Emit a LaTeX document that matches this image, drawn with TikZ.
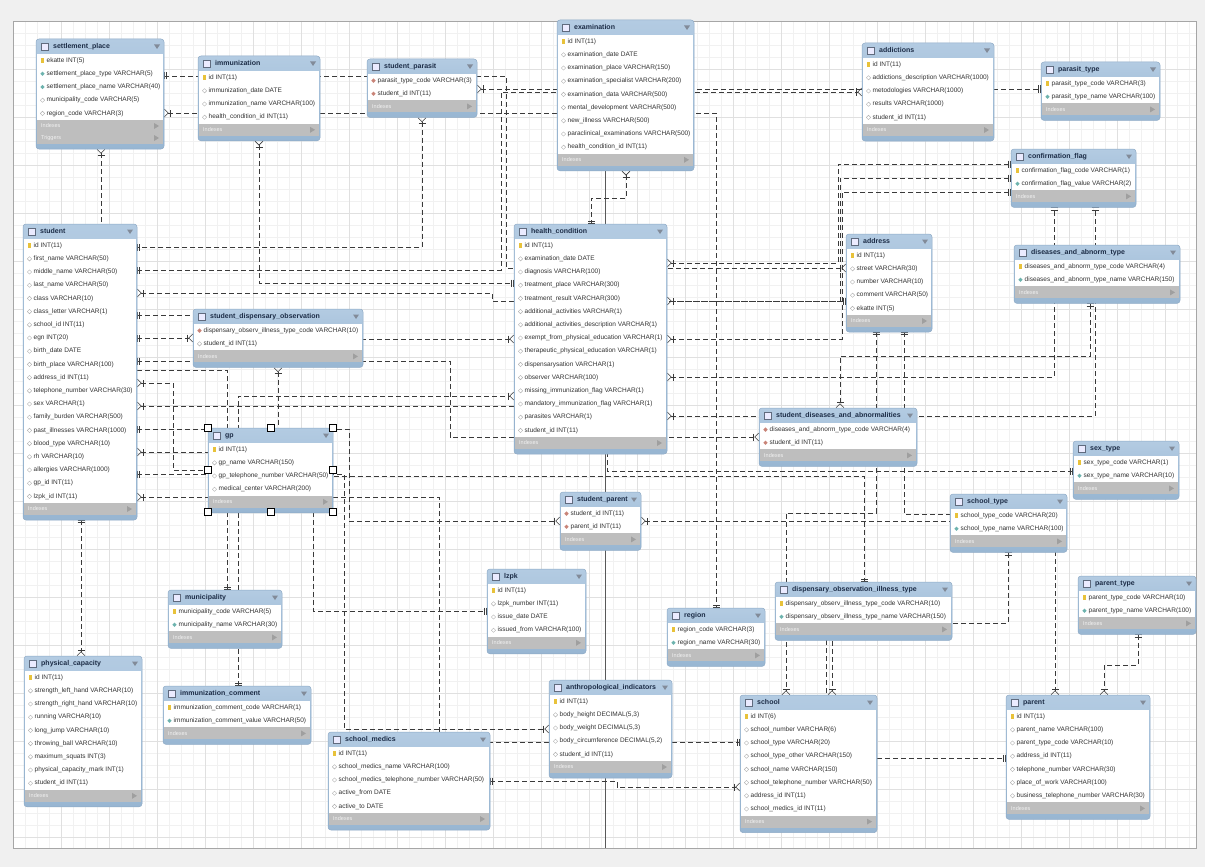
\documentclass[tikz,border=0pt]{standalone}
\usepackage{fontspec}
\setmainfont{Liberation Sans}
\usetikzlibrary{arrows.meta,shapes.geometric}

\definecolor{outerbg}{HTML}{F0F0F0}
\definecolor{minorgrid}{HTML}{F1F1F1}
\definecolor{majorgrid}{HTML}{E0E0E0}
\definecolor{tbltop}{HTML}{B3CBE2}
\definecolor{tblbot}{HTML}{98B6D2}
\definecolor{tblborder}{HTML}{8EAAC6}
\definecolor{titleblue}{HTML}{1C2C46}
\definecolor{rowgray}{HTML}{333333}
\definecolor{footgray}{HTML}{BEBEBE}
\definecolor{keyyellow}{HTML}{E8C23A}
\definecolor{nnteal}{HTML}{6DB3AE}
\definecolor{fkred}{HTML}{C98478}
\definecolor{relgray}{HTML}{3A3A3A}

\pgfdeclarelayer{bg}
\pgfsetlayers{bg,main}

% one table: [footers]{name}{x}{y}{width}{rows}{title}{type/text list}
\newcommand{\ertable}[8][Indexes]{%
  \pgfmathsetmacro\rowbot{#4+15+13.2*#6}%
  \foreach \ft [count=\fk] in {#1} {\xdef\nfoot{\fk}}%
  \pgfmathsetmacro\tblbot{\rowbot+12*\nfoot+5}%
  \pgfmathsetmacro\tblh{\tblbot-#4}%
  \node[tblframe, minimum width=#5pt, minimum height=\tblh pt] (#2) at (#3,#4) {};
  \fill[white] (#3+1,#4+15) rectangle (#3+#5-1,\rowbot);
  \fill[footgray] (#3+1,\rowbot) rectangle (#3+#5-1,\rowbot+12*\nfoot);
  \draw[tblicon] (#3+5,#4+4) rectangle (#3+12,#4+11);
  \node[tbltitle] at (#3+17,#4+7.5) {#7};
  \fill[tblarrow] (#3+#5-10,#4+5.5) -- (#3+#5-4,#4+5.5) -- (#3+#5-7,#4+10) -- cycle;
  \foreach \ft [count=\fk] in {#1} {
    \pgfmathsetmacro\fy{\rowbot+12*(\fk-0.5)}
    \node[tblfoottext] at (#3+5,\fy) {\ft};
    \fill[gray!75] (#3+#5-10,\fy-3) -- (#3+#5-10,\fy+3) -- (#3+#5-5,\fy) -- cycle;
  }
  \foreach \rtype/\rtext [count=\ri] in {#8} {
    \pgfmathsetmacro\ry{#4+15+13.2*(\ri-0.5)}
    \node[ic\rtype] at (#3+6.5,\ry) {};
    \node[rowtext] at (#3+10.5,\ry) {\rtext};
  }
}

\begin{document}
\begin{tikzpicture}
  [x=1pt, y=-1pt,
 tblframe/.style={
  rectangle,
  rounded corners=3pt,
  top color=tbltop,
  bottom color=tblbot,
  draw=tblborder,
  line width=0.5pt,
  anchor=north west,
  inner sep=0pt, outer sep=0pt},
 tblicon/.style={fill=blue!8, draw=titleblue!70, line width=0.4pt},
 tbltitle/.style={anchor=west, inner sep=0pt, text=titleblue,
  font=\bfseries\fontsize{7}{8}\selectfont, text height=5pt, text depth=1.5pt},
 tblarrow/.style={fill=titleblue!55},
 tblfoottext/.style={anchor=west, inner sep=0pt, text=white!90!gray,
  font=\fontsize{5.5}{6}\selectfont},
 rowtext/.style={anchor=west, inner sep=0pt, text=rowgray,
  font=\fontsize{6.5}{7}\selectfont, text height=4.7pt, text depth=1.3pt},
 ick/.style={rectangle, fill=keyyellow, minimum width=2.2pt, minimum height=5pt, inner sep=0pt},
 icn/.style={diamond, fill=nnteal, minimum size=4.5pt, inner sep=0pt},
 icf/.style={diamond, fill=fkred, minimum size=4.5pt, inner sep=0pt},
 ico/.style={diamond, draw=gray!60, fill=white, line width=0.4pt, minimum size=4.5pt, inner sep=0pt},
 rel/.style={draw=relgray, line width=0.6pt, dash pattern=on 5pt off 3pt},
 erone/.tip={Bar[width=7pt,sep=1.8pt]Bar[width=7pt]},
 ermany/.tip={Bar[width=7pt,sep=1pt]Straight Barb[reversed,length=4pt,width=8pt]},
 handle/.style={fill=white, draw=black, line width=0.5pt}]

\useasboundingbox (0,0) rectangle (1205,867);
\begin{pgfonlayer}{bg}
\fill[outerbg] (0,0) rectangle (1205,867);
\fill[white] (13,21) rectangle (1196,848);
\foreach \gx in {25,37,...,1195} \draw[minorgrid, line width=0.4pt] (\gx,21) -- (\gx,848);
\foreach \gy in {33,45,...,847} \draw[minorgrid, line width=0.4pt] (13,\gy) -- (1196,\gy);
\foreach \gx in {61,109,...,1195} \draw[majorgrid, line width=0.5pt] (\gx,21) -- (\gx,848);
\foreach \gy in {69,117,...,847} \draw[majorgrid, line width=0.5pt] (13,\gy) -- (1196,\gy);
\draw[gray!70, line width=0.8pt] (13,21) rectangle (1196,848);
\draw[gray!130, line width=0.6pt] (605,21) -- (605,848);
\end{pgfonlayer}

\ertable[Indexes,Triggers]{settlement}{36}{39}{128}{5}{settlement\_place}{k/ekatte INT(5), n/settlement\_place\_type VARCHAR(5), n/settlement\_place\_name VARCHAR(40), o/municipality\_code VARCHAR(5), o/region\_code VARCHAR(3)}
\ertable{immunization}{198}{56}{122}{4}{immunization}{k/id INT(11), o/immunization\_date DATE, o/immunization\_name VARCHAR(100), o/health\_condition\_id INT(11)}
\ertable{stparasit}{367}{59}{110}{2}{student\_parasit}{f/parasit\_type\_code VARCHAR(3), f/student\_id INT(11)}
\ertable{examination}{557}{20}{137}{9}{examination}{k/id INT(11), o/examination\_date DATE, o/examination\_place VARCHAR(150), o/examination\_specialist VARCHAR(200), o/examination\_data VARCHAR(500), o/mental\_development VARCHAR(500), o/new\_illness VARCHAR(500), o/paraclinical\_examinations VARCHAR(500), o/health\_condition\_id INT(11)}
\ertable{addictions}{862}{43}{132}{5}{addictions}{k/id INT(11), o/addictions\_description VARCHAR(1000), o/metodologies VARCHAR(1000), o/results VARCHAR(1000), o/student\_id INT(11)}
\ertable{parasittype}{1041}{62}{119}{2}{parasit\_type}{k/parasit\_type\_code VARCHAR(3), n/parasit\_type\_name VARCHAR(100)}
\ertable{confflag}{1011}{149}{125}{2}{confirmation\_flag}{k/confirmation\_flag\_code VARCHAR(1), n/confirmation\_flag\_value VARCHAR(2)}
\ertable{address}{846}{234}{86}{5}{address}{k/id INT(11), o/street VARCHAR(30), o/number VARCHAR(10), o/comment VARCHAR(50), o/ekatte INT(5)}
\ertable{distype}{1014}{245}{166}{2}{diseases\_and\_abnorm\_type}{k/diseases\_and\_abnorm\_type\_code VARCHAR(4), n/diseases\_and\_abnorm\_type\_name VARCHAR(150)}
\ertable{student}{23}{224}{114}{20}{student}{k/id INT(11), o/first\_name VARCHAR(50), o/middle\_name VARCHAR(50), o/last\_name VARCHAR(50), o/class VARCHAR(10), o/class\_letter VARCHAR(1), o/school\_id INT(11), o/egn INT(20), o/birth\_date DATE, o/birth\_place VARCHAR(100), o/address\_id INT(11), o/telephone\_number VARCHAR(30), o/sex VARCHAR(1), o/family\_burden VARCHAR(500), o/past\_illnesses VARCHAR(1000), o/blood\_type VARCHAR(10), o/rh VARCHAR(10), o/allergies VARCHAR(1000), o/gp\_id INT(11), o/lzpk\_id INT(11)}
\ertable{health}{514}{224}{153}{15}{health\_condition}{k/id INT(11), o/examination\_date DATE, o/diagnosis VARCHAR(100), o/treatment\_place VARCHAR(300), o/treatment\_result VARCHAR(300), o/additional\_activities VARCHAR(1), o/additional\_activities\_description VARCHAR(1), o/exempt\_from\_physical\_education VARCHAR(1), o/therapeutic\_physical\_education VARCHAR(1), o/dispensarysation VARCHAR(1), o/observer VARCHAR(100), o/missing\_immunization\_flag VARCHAR(1), o/mandatory\_immunization\_flag VARCHAR(1), o/parasites VARCHAR(1), o/student\_id INT(11)}
\ertable{stdispobs}{193}{309}{170}{2}{student\_dispensary\_observation}{f/dispensary\_observ\_illness\_type\_code VARCHAR(10), o/student\_id INT(11)}
\ertable{gp}{208}{428}{125}{4}{gp}{k/id INT(11), o/gp\_name VARCHAR(150), o/gp\_telephone\_number VARCHAR(50), o/medical\_center VARCHAR(200)}
\ertable{stdiseases}{759}{408}{158}{2}{student\_diseases\_and\_abnormalities}{f/diseases\_and\_abnorm\_type\_code VARCHAR(4), f/student\_id INT(11)}
\ertable{sextype}{1073}{441}{106}{2}{sex\_type}{k/sex\_type\_code VARCHAR(1), n/sex\_type\_name VARCHAR(10)}
\ertable{stparent}{560}{492}{81}{2}{student\_parent}{f/student\_id INT(11), f/parent\_id INT(11)}
\ertable{schooltype}{950}{494}{117}{2}{school\_type}{k/school\_type\_code VARCHAR(20), n/school\_type\_name VARCHAR(100)}
\ertable{lzpk}{487}{569}{99}{4}{lzpk}{k/id INT(11), o/lzpk\_number INT(11), o/issue\_date DATE, o/issued\_from VARCHAR(100)}
\ertable{municipality}{168}{590}{114}{2}{municipality}{k/municipality\_code VARCHAR(5), n/municipality\_name VARCHAR(30)}
\ertable{region}{667}{608}{98}{2}{region}{k/region\_code VARCHAR(3), n/region\_name VARCHAR(30)}
\ertable{dispillness}{775}{582}{177}{2}{dispensary\_observation\_illness\_type}{k/dispensary\_observ\_illness\_type\_code VARCHAR(10), n/dispensary\_observ\_illness\_type\_name VARCHAR(150)}
\ertable{parenttype}{1078}{576}{118}{2}{parent\_type}{k/parent\_type\_code VARCHAR(10), n/parent\_type\_name VARCHAR(100)}
\ertable{physcap}{24}{656}{118}{9}{physical\_capacity}{k/id INT(11), o/strength\_left\_hand VARCHAR(10), o/strength\_right\_hand VARCHAR(10), o/running VARCHAR(10), o/long\_jump VARCHAR(10), o/throwing\_ball VARCHAR(10), o/maximum\_squats INT(3), o/physical\_capacity\_mark INT(1), o/student\_id INT(11)}
\ertable{immcomment}{163}{686}{148}{2}{immunization\_comment}{k/immunization\_comment\_code VARCHAR(1), n/immunization\_comment\_value VARCHAR(50)}
\ertable{anthro}{549}{680}{123}{5}{anthropological\_indicators}{k/id INT(11), o/{body\_height DECIMAL(5,3)}, o/{body\_weight DECIMAL(5,3)}, o/{body\_circumference DECIMAL(5,2)}, o/student\_id INT(11)}
\ertable{medics}{328}{732}{162}{5}{school\_medics}{k/id INT(11), o/school\_medics\_name VARCHAR(100), o/school\_medics\_telephone\_number VARCHAR(50), o/active\_from DATE, o/active\_to DATE}
\ertable{school}{740}{695}{137}{8}{school}{k/id INT(6), o/school\_number VARCHAR(6), o/school\_type VARCHAR(20), o/school\_type\_other VARCHAR(150), o/school\_name VARCHAR(150), o/school\_telephone\_number VARCHAR(50), o/address\_id INT(11), o/school\_medics\_id INT(11)}
\ertable{parent}{1006}{695}{144}{7}{parent}{k/id INT(11), o/parent\_name VARCHAR(100), o/parent\_type\_code VARCHAR(10), o/address\_id INT(11), o/telephone\_number VARCHAR(30), o/place\_of\_work VARCHAR(100), o/business\_telephone\_number VARCHAR(30)}

% selection handles round gp
\foreach \hx/\hy in {208/428, 270.5/428, 333/428, 208/470, 333/470, 208/512, 270.5/512, 333/512}
  \draw[handle] (\hx-3.5,\hy-3.5) rectangle (\hx+3.5,\hy+3.5);

\begin{pgfonlayer}{bg}
\draw[rel, erone-ermany] (settlement.east |- 0,76) -- (506,76) -- (506,268) -- (address.west |- 0,268);
\draw[rel, ermany-erone] (settlement.east |- 0,113) -- (716,113) -- (region.north -| 716,0);
\draw[rel, ermany-] (settlement.south -| 101,0) -- (student.north -| 101,0);
\draw[rel, -erone] (student.east |- 0,370) -- (227,370) -- (municipality.north -| 227,0);
\draw[rel, ermany-erone] (immunization.south -| 259,0) -- (259,283) -- (health.west |- 0,283);
\draw[rel, ermany-erone] (stparasit.south -| 422,0) -- (422,247) -- (student.east |- 0,247);
\draw[rel, ermany-erone] (stparasit.east |- 0,89) -- (parasittype.west |- 0,89);
\draw[rel, erone-ermany] (student.east |- 0,270) -- (501,270) -- (501,92) -- (addictions.west |- 0,92);
\draw[rel, ermany-erone] (examination.south -| 626,0) -- (626,198) -- (591,198) -- (health.north -| 591,0);
\draw[rel, ermany-erone] (health.east |- 0,263) -- (838,263) -- (838,164) -- (confflag.west |- 0,164);
\draw[rel, ermany-erone] (health.east |- 0,301) -- (840,301) -- (840,178) -- (confflag.west |- 0,178);
\draw[rel, ermany-erone] (health.east |- 0,339) -- (842,339) -- (842,192) -- (confflag.west |- 0,192);
\draw[rel, ermany-erone] (health.east |- 0,377) -- (1054,377) -- (confflag.south -| 1054,0);
\draw[rel, ermany-erone] (health.east |- 0,416) -- (1095,416) -- (confflag.south -| 1095,0);
\draw[rel, erone-ermany] (distype.south -| 1090,0) -- (1090,356) -- (840,356) -- (stdiseases.north -| 840,0);
\draw[rel, erone-ermany] (student.south -| 81,0) -- (physcap.north -| 81,0);
\draw[rel, erone-ermany] (student.east |- 0,315) -- (300,315) -- (300,339) -- (health.west |- 0,339);
\draw[rel, erone-ermany] (student.east |- 0,338) -- (stdispobs.west |- 0,338);
\draw[rel, erone-ermany] (student.east |- 0,361) -- (450,361) -- (450,437) -- (stdiseases.west |- 0,437);
\draw[rel, ermany-erone] (student.east |- 0,293) -- (492,293) -- (492,301) -- (address.west |- 0,301);
\draw[rel, ermany-erone] (student.east |- 0,383) -- (173,383) -- (173,470) -- (gp.west |- 0,470);
\draw[rel, ermany-erone] (student.east |- 0,406) -- (607,406) -- (607,471) -- (sextype.west |- 0,471);
\draw[rel, erone-ermany] (student.east |- 0,429) -- (349,429) -- (349,521) -- (stparent.west |- 0,521);
\draw[rel, ermany-erone] (student.east |- 0,452) -- (313,452) -- (313,611) -- (lzpk.west |- 0,611);
\draw[rel, erone-ermany] (student.east |- 0,474) -- (344,474) -- (344,729) -- (anthro.west |- 0,729);
\draw[rel, ermany-erone] (student.east |- 0,497) -- (439,497) -- (439,742) -- (school.west |- 0,742);
\draw[rel, ermany-erone] (stdispobs.south -| 278,0) -- (278,476) -- (864,476) -- (dispillness.north -| 864,0);
\draw[rel, erone-ermany] (immcomment.north -| 238,0) -- (238,396) -- (health.west |- 0,396);
\draw[rel, erone-ermany] (address.south -| 876,0) -- (876,513) -- (786,513) -- (school.north -| 786,0);
\draw[rel, erone-] (address.south -| 904,0) -- (904,514) -- (schooltype.west |- 0,514);
\draw[rel, erone-ermany] (schooltype.south -| 1008,0) -- (1008,623) -- (832,623) -- (school.north -| 832,0);
\draw[rel] (dispillness.south -| 826,0) -- (school.north -| 826,0);
\draw[rel, ermany-ermany] (stparent.east |- 0,521) -- (1055,521) -- (parent.north -| 1055,0);
\draw[rel, erone-ermany] (parenttype.south -| 1138,0) -- (1138,665) -- (1104,665) -- (parent.north -| 1104,0);
\draw[rel, -erone] (school.east |- 0,758) -- (parent.west |- 0,758);
\draw[rel, erone-ermany] (medics.east |- 0,781) -- (617,781) -- (617,787) -- (school.west |- 0,787);
\end{pgfonlayer}
\end{tikzpicture}
\end{document}
